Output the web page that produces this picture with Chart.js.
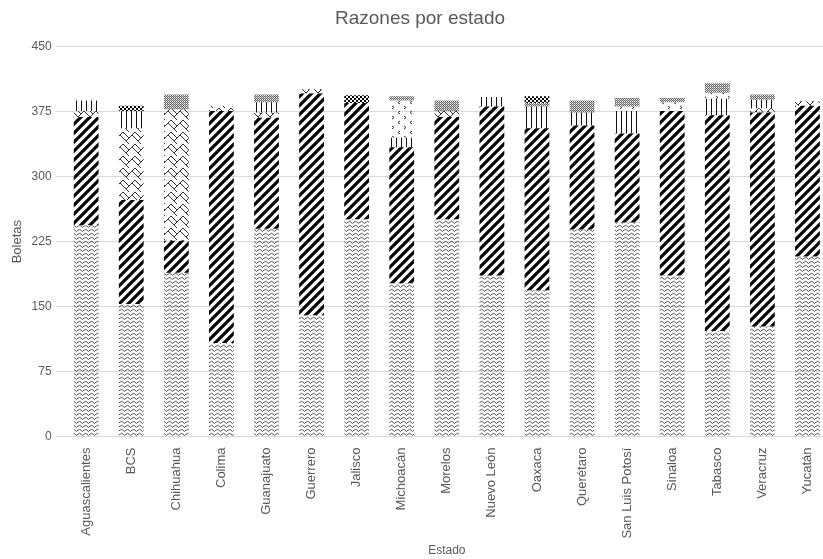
<!DOCTYPE html>
<html>
<head>
<meta charset="utf-8">
<script src="https://cdn.jsdelivr.net/npm/chart.js@4/dist/chart.umd.min.js"></script>
<style>
    html, body { margin: 0; padding: 0; background: #ffffff; overflow: hidden; }
    #caixa { width: 830px; height: 559px; }
</style>
</head>
<body>
<div id="caixa"><canvas id="grafico"></canvas></div>
<script>
const estados = ["Aguascalientes", "BCS", "Chihuahua", "Colima", "Guanajuato", "Guerrero", "Jalisco", "Michoacán", "Morelos", "Nuevo León", "Oaxaca", "Querétaro", "San Luis Potosí", "Sinaloa", "Tabasco", "Veracruz", "Yucatán"];

// segmentos de baixo para cima
const razonOnda      = [244, 153, 189, 108, 240, 140, 251, 177, 251, 186, 169, 239, 247, 186, 122, 127, 208];
const razonDiagonal  = [125, 120, 37, 268, 128, 256, 134, 157, 118, 195, 187, 120, 103, 190, 249, 247, 174];
const razonTrama     = [7, 83, 152, 6, 6, 5, 0, 0, 7, 0, 0, 0, 0, 0, 0, 5, 5];
const razonVertical  = [12, 20, 0, 0, 12, 0, 0, 11, 0, 11, 25, 15, 26, 0, 19, 10, 0];
const razonFlechas   = [0, 0, 0, 0, 0, 0, 0, 43, 0, 0, 0, 0, 5, 10, 7, 0, 0];
const razonPuntos    = [0, 0, 17, 0, 9, 0, 0, 5, 12, 0, 4, 14, 10, 5, 11, 6, 0];
const razonCuadros   = [0, 6, 0, 0, 0, 0, 9, 0, 0, 0, 8, 0, 0, 0, 0, 0, 0];

const ticksY = [0, 75, 150, 225, 300, 375, 450];

function criarPadrao(tipo) {
    const c = document.createElement('canvas');
    const g = c.getContext('2d');
    if (tipo == 'onda') {
        c.width = 6; c.height = 4;
        g.strokeStyle = '#555'; g.lineWidth = 1;
        g.beginPath(); g.moveTo(-1, 3.5); g.lineTo(1.5, 1); g.lineTo(4.5, 3.5); g.lineTo(7, 1); g.stroke();
    }
    if (tipo == 'diagonal') {
        c.width = 9; c.height = 9;
        g.strokeStyle = '#000'; g.lineWidth = 3.2;
        g.beginPath();
        g.moveTo(-2, 11); g.lineTo(11, -2);
        g.moveTo(-6, 6); g.lineTo(6, -6);
        g.moveTo(3, 15); g.lineTo(15, 3);
        g.stroke();
    }
    if (tipo == 'trama') {
        c.width = 12; c.height = 12;
        g.strokeStyle = '#333'; g.lineWidth = 1;
        g.beginPath();
        g.moveTo(0, 3); g.lineTo(3, 0); g.moveTo(0, 3); g.lineTo(6, 9); g.lineTo(9, 6);
        g.moveTo(6, 9); g.lineTo(9, 12); g.moveTo(3, 0); g.lineTo(9, 6); g.lineTo(12, 3);
        g.stroke();
    }
    if (tipo == 'vertical') {
        c.width = 5; c.height = 2;
        g.fillStyle = '#111';
        g.fillRect(1, 0, 1, 2);
    }
    if (tipo == 'flechas') {
        c.width = 12; c.height = 10;
        g.strokeStyle = '#333'; g.lineWidth = 1;
        g.beginPath();
        g.moveTo(4, 1); g.lineTo(2, 2.5); g.lineTo(4, 4);
        g.moveTo(8, 6); g.lineTo(10, 7.5); g.lineTo(8, 9);
        g.stroke();
    }
    if (tipo == 'puntos') {
        c.width = 2; c.height = 2;
        g.fillStyle = '#666';
        g.fillRect(0, 0, 1, 1);
        g.fillRect(1, 1, 1, 1);
        g.fillStyle = '#bbb';
        g.fillRect(1, 0, 1, 1);
    }
    if (tipo == 'cuadros') {
        c.width = 4; c.height = 4;
        g.fillStyle = '#000';
        g.fillRect(0, 0, 2, 2);
        g.fillRect(2, 2, 2, 2);
    }
    return g.createPattern(c, 'repeat');
}

let data = {
    labels: estados,
    datasets: [
        { label: 'Razón 1', data: razonOnda, backgroundColor: criarPadrao('onda') },
        { label: 'Razón 2', data: razonDiagonal, backgroundColor: criarPadrao('diagonal') },
        { label: 'Razón 3', data: razonTrama, backgroundColor: criarPadrao('trama') },
        { label: 'Razón 4', data: razonVertical, backgroundColor: criarPadrao('vertical') },
        { label: 'Razón 5', data: razonFlechas, backgroundColor: criarPadrao('flechas') },
        { label: 'Razón 6', data: razonPuntos, backgroundColor: criarPadrao('puntos') },
        { label: 'Razón 7', data: razonCuadros, backgroundColor: criarPadrao('cuadros') }
    ]
}

let options = {
    responsive: true,
    maintainAspectRatio: false,
    animation: false,
    layout: { padding: { left: 10, right: 0, top: 4, bottom: 1 } },
    datasets: { bar: { categoryPercentage: 1, barPercentage: 0.55, borderWidth: 0 } },
    scales: {
        x: {
            stacked: true,
            grid: { display: false },
            border: { display: false },
            ticks: {
                color: '#595959',
                font: { family: 'Liberation Sans', size: 13 },
                maxRotation: 90,
                minRotation: 90,
                autoSkip: false,
                padding: 3
            },
            title: {
                display: true,
                text: 'Estado',
                color: '#595959',
                font: { family: 'Liberation Sans', size: 12 },
                padding: { top: 2, bottom: 0 }
            }
        },
        y: {
            stacked: true,
            min: 0,
            max: 450,
            afterBuildTicks: (eixo) => { eixo.ticks = ticksY.map((v) => ({ value: v })); },
            grid: { color: '#d9d9d9', drawTicks: true, tickLength: 8 },
            border: { display: false },
            ticks: {
                color: '#595959',
                font: { family: 'Liberation Sans', size: 12 },
                padding: 4
            },
            title: {
                display: true,
                text: 'Boletas',
                color: '#595959',
                font: { family: 'Liberation Sans', size: 13 },
                padding: { top: 0, bottom: 2 }
            }
        }
    },
    plugins: {
        legend: { display: false },
        tooltip: { enabled: false },
        title: {
            display: true,
            text: 'Razones por estado',
            color: '#595959',
            font: { family: 'Liberation Sans', size: 19, weight: 'normal' },
            padding: { top: 3, bottom: 17 }
        }
    }
}

new Chart(document.getElementById('grafico'), { type: 'bar', data: data, options: options });
</script>
</body>
</html>
